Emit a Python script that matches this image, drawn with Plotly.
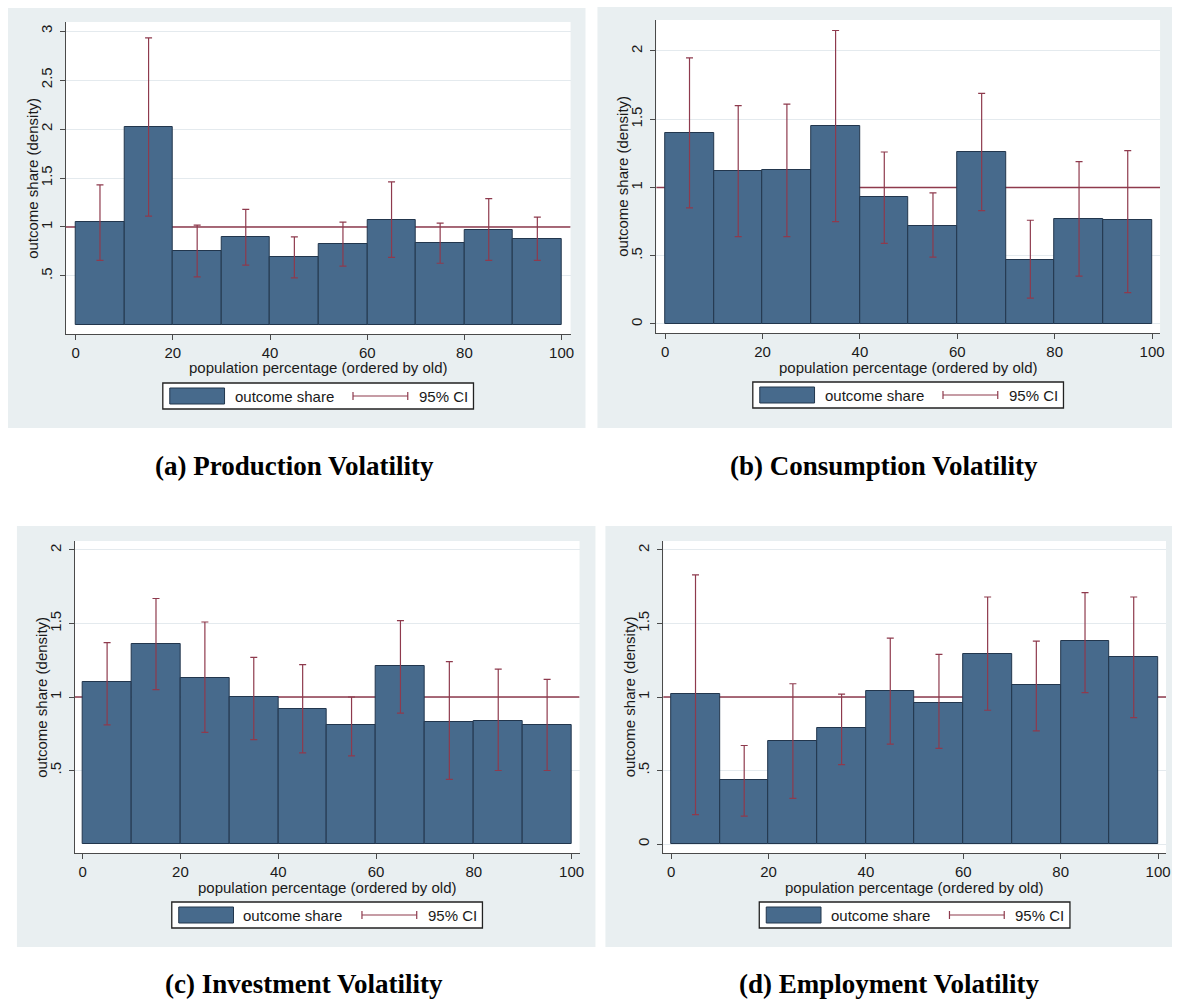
import plotly.graph_objects as go

W, H = 1181, 1003

# ---------------- data ----------------
bin_mid = [5, 15, 25, 35, 45, 55, 65, 75, 85, 95]
bin_width = [10] * 10
x_ticks = [0, 20, 40, 60, 80, 100]

prod_share = [1.05, 2.02, 0.76, 0.90, 0.69, 0.83, 1.07, 0.84, 0.97, 0.88]
prod_lo = [0.66, 1.11, 0.49, 0.61, 0.48, 0.60, 0.69, 0.63, 0.66, 0.66]
prod_hi = [1.43, 2.93, 1.02, 1.18, 0.90, 1.05, 1.46, 1.04, 1.29, 1.10]

cons_share = [1.40, 1.12, 1.13, 1.45, 0.93, 0.72, 1.26, 0.47, 0.77, 0.76]
cons_lo = [0.85, 0.64, 0.64, 0.75, 0.59, 0.49, 0.83, 0.19, 0.35, 0.23]
cons_hi = [1.95, 1.60, 1.61, 2.15, 1.26, 0.96, 1.69, 0.76, 1.19, 1.27]

inv_share = [1.10, 1.36, 1.13, 1.00, 0.92, 0.81, 1.21, 0.83, 0.84, 0.81]
inv_lo = [0.81, 1.05, 0.76, 0.71, 0.62, 0.60, 0.89, 0.44, 0.50, 0.50]
inv_hi = [1.37, 1.67, 1.51, 1.27, 1.22, 1.00, 1.52, 1.24, 1.19, 1.12]

emp_share = [1.02, 0.435, 0.70, 0.79, 1.04, 0.96, 1.29, 1.08, 1.38, 1.27]
emp_lo = [0.20, 0.19, 0.31, 0.54, 0.68, 0.65, 0.91, 0.77, 1.03, 0.86]
emp_hi = [1.83, 0.67, 1.09, 1.02, 1.40, 1.29, 1.68, 1.38, 1.71, 1.68]

ytick_a = [0.5, 1, 1.5, 2, 2.5, 3]
ytick_a_txt = [".5", "1", "1.5", "2", "2.5", "3"]
ytick_b = [0, 0.5, 1, 1.5, 2]
ytick_b_txt = ["0", ".5", "1", "1.5", "2"]
ytick_c = [0.5, 1, 1.5, 2]
ytick_c_txt = [".5", "1", "1.5", "2"]

captions = ["(a) Production Volatility", "(b) Consumption Volatility",
            "(c) Investment Volatility", "(d) Employment Volatility"]
x_title = "population percentage (ordered by old)"
y_title = "outcome share (density)"
legend_bar = "outcome share"
legend_ci = "95% CI"
ref_value = 1

# ---------------- style ----------------
BAR = "#476a8c"
BAR_EDGE = "#22364d"
CI = "#8e3a4d"
BG = "#e9eff1"
AXC = "#4a4a4a"
TXT = "#1a1a1a"
SANS = "Liberation Sans, Arial, sans-serif"
SERIF = "Liberation Serif, Times New Roman, serif"

panels = [
    dict(share=prod_share, lo=prod_lo, hi=prod_hi, tv=ytick_a, tt=ytick_a_txt,
         bg=(8, 8, 588, 428), plot=(66, 22, 573, 334),
         xr=[-2.05, 101.84], yr=[-0.092, 3.092], cap=(296, 466)),
    dict(share=cons_share, lo=cons_lo, hi=cons_hi, tv=ytick_b, tt=ytick_b_txt,
         bg=(600, 7, 1177, 428), plot=(659, 20, 1165, 333),
         xr=[-1.84, 101.64], yr=[-0.066, 2.227], cap=(888, 466)),
    dict(share=inv_share, lo=inv_lo, hi=inv_hi, tv=ytick_c, tt=ytick_c_txt,
         bg=(17, 526, 598, 947), plot=(75, 541, 582, 853),
         xr=[-1.63, 101.63], yr=[-0.061, 2.061], cap=(305, 984)),
    dict(share=emp_share, lo=emp_lo, hi=emp_hi, tv=ytick_b, tt=ytick_b_txt,
         bg=(608, 526, 1177, 947), plot=(666, 541, 1171, 853),
         xr=[-1.64, 101.64], yr=[-0.061, 2.061], cap=(893, 984)),
]


def px(x):
    return x / W


def py(y):
    return 1 - y / H


fig = go.Figure()
shapes = []
annotations = []
layout_axes = {}

for i, p in enumerate(panels):
    n = i + 1
    xa = "x" if n == 1 else f"x{n}"
    ya = "y" if n == 1 else f"y{n}"
    xkey = "xaxis" if n == 1 else f"xaxis{n}"
    ykey = "yaxis" if n == 1 else f"yaxis{n}"
    x0, y0, x1, y1 = p["plot"]

    # panel background and white plot region
    b = p["bg"]
    shapes.append(dict(type="rect", xref="paper", yref="paper", layer="below",
                       x0=px(b[0]), x1=px(b[2]), y0=py(b[3]), y1=py(b[1]),
                       fillcolor=BG, line=dict(width=0)))
    shapes.append(dict(type="rect", xref="paper", yref="paper", layer="below",
                       x0=px(x0), x1=px(x1), y0=py(y1), y1=py(y0),
                       fillcolor="white", line=dict(width=0)))

    # reference line at 1 (between grid and bars)
    shapes.append(dict(type="line", xref=xa, yref=ya, layer="between",
                       x0=p["xr"][0], x1=p["xr"][1], y0=ref_value, y1=ref_value,
                       line=dict(color=CI, width=1.3)))

    fig.add_trace(go.Bar(x=bin_mid, y=p["share"], width=bin_width,
                         marker=dict(color=BAR, line=dict(color=BAR_EDGE, width=1)),
                         xaxis=xa, yaxis=ya, showlegend=False, name=legend_bar))
    err_up = [h - l for h, l in zip(p["hi"], p["lo"])]
    fig.add_trace(go.Scatter(x=bin_mid, y=p["lo"], mode="markers",
                             marker=dict(size=1, opacity=0),
                             error_y=dict(type="data", symmetric=False, array=err_up,
                                          arrayminus=[0] * 10, color=CI,
                                          thickness=1.2, width=3.5),
                             xaxis=xa, yaxis=ya, showlegend=False, name=legend_ci))

    layout_axes[xkey] = dict(domain=[px(x0), px(x1)], anchor=ya, range=p["xr"],
                             tickvals=x_ticks, ticks="outside", ticklen=5,
                             tickcolor=AXC, showline=True, linecolor=AXC, linewidth=1.3,
                             showgrid=False, zeroline=False, ticklabelstandoff=0,
                             tickfont=dict(family=SANS, size=15, color=TXT))
    layout_axes[ykey] = dict(domain=[py(y1), py(y0)], anchor=xa, range=p["yr"],
                             tickvals=p["tv"], ticktext=p["tt"], tickangle=-90,
                             ticks="outside", ticklen=5, tickcolor=AXC,
                             showline=True, linecolor=AXC, linewidth=1.3,
                             showgrid=True, gridcolor="#e4eaee", gridwidth=1,
                             zeroline=False, ticklabelstandoff=2,
                             tickfont=dict(family=SANS, size=15, color=TXT))

    # axis titles
    cx = (x0 + x1) / 2
    annotations.append(dict(text=x_title, xref="paper", yref="paper",
                            x=px(cx), y=py(y1 + 34), xanchor="center", yanchor="middle",
                            showarrow=False, font=dict(family=SANS, size=15, color=TXT)))
    annotations.append(dict(text=y_title, xref="paper", yref="paper", textangle=-90,
                            x=px(x0 - 34), y=py((y0 + y1) / 2), xanchor="center",
                            yanchor="middle", showarrow=False,
                            font=dict(family=SANS, size=15, color=TXT)))

    # legend box
    lw, lh = 312, 26
    lx = cx - lw / 2
    lt = y1 + 49
    shapes.append(dict(type="rect", xref="paper", yref="paper",
                       x0=px(lx), x1=px(lx + lw), y0=py(lt + lh), y1=py(lt),
                       fillcolor="white", line=dict(color="#222222", width=1.3)))
    shapes.append(dict(type="rect", xref="paper", yref="paper",
                       x0=px(lx + 7), x1=px(lx + 62), y0=py(lt + 21), y1=py(lt + 5),
                       fillcolor=BAR, line=dict(color=BAR_EDGE, width=1)))
    annotations.append(dict(text=legend_bar, xref="paper", yref="paper",
                            x=px(lx + 70), y=py(lt + 13), xanchor="left", yanchor="middle",
                            showarrow=False, font=dict(family=SANS, size=15, color=TXT)))
    ly = lt + 13
    shapes.append(dict(type="line", xref="paper", yref="paper",
                       x0=px(lx + 191), x1=px(lx + 246), y0=py(ly), y1=py(ly),
                       line=dict(color=CI, width=1.2)))
    for cxx in (lx + 191, lx + 246):
        shapes.append(dict(type="line", xref="paper", yref="paper",
                           x0=px(cxx), x1=px(cxx), y0=py(ly - 4), y1=py(ly + 4),
                           line=dict(color=CI, width=1.2)))
    annotations.append(dict(text=legend_ci, xref="paper", yref="paper",
                            x=px(lx + 255), y=py(ly), xanchor="left", yanchor="middle",
                            showarrow=False, font=dict(family=SANS, size=15, color=TXT)))

    # caption
    annotations.append(dict(text=f"<b>{captions[i]}</b>", xref="paper", yref="paper",
                            x=px(p["cap"][0]), y=py(p["cap"][1]), xanchor="center",
                            yanchor="middle", showarrow=False,
                            font=dict(family=SERIF, size=27, color="black")))

fig.update_layout(width=W, height=H, margin=dict(l=0, r=0, t=0, b=0),
                  paper_bgcolor="white", plot_bgcolor="rgba(0,0,0,0)",
                  bargap=0, showlegend=False, shapes=shapes, annotations=annotations,
                  **layout_axes)

fig.write_html("out.html", config={"displayModeBar": False},
               post_script="document.body.style.margin='0';document.body.style.overflow='hidden';")
